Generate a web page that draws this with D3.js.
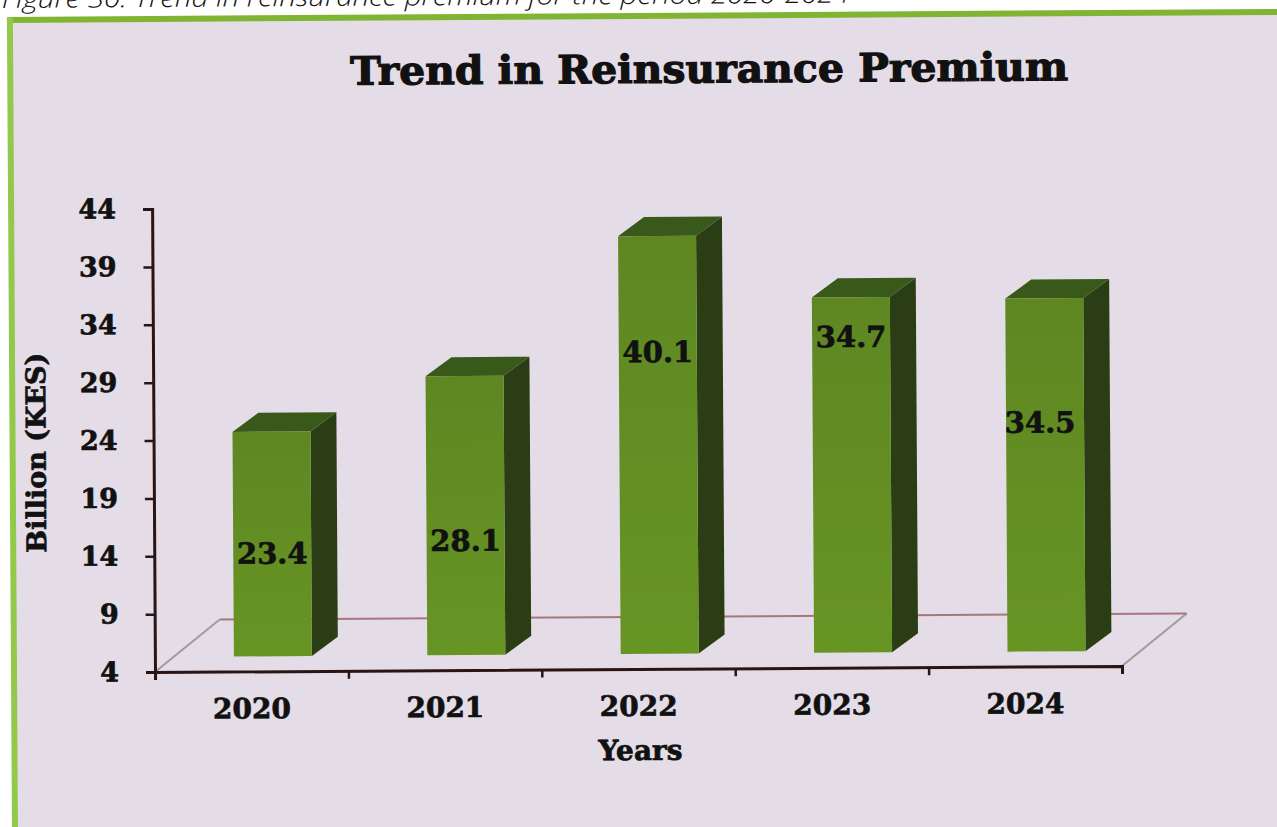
<!DOCTYPE html>
<html>
<head>
<meta charset="utf-8">
<script src="https://cdnjs.cloudflare.com/ajax/libs/d3/7.8.5/d3.min.js"></script>
<style>
  html, body { margin: 0; padding: 0; background: #fff; overflow: hidden; }
  svg { display: block; }
  text { font-family: "DejaVu Serif", serif; font-weight: bold; fill: #111; }
  .heavy { stroke: #111; stroke-width: 0.7px; }
</style>
</head>
<body>
<div id="chart"></div>
<script>
const years = ["2020", "2021", "2022", "2023", "2024"];
const premium = [23.4, 28.1, 40.1, 34.7, 34.5];
const yTicks = [4, 9, 14, 19, 24, 29, 34, 39, 44];
const chartTitle = "Trend in Reinsurance Premium";
const caption = "Figure 30: Trend in reinsurance premium for the period 2020-2024";

const width = 1277;
const height = 827;

// the source is a slightly crooked scan, so everything sits in one rotated group
let svg = d3.select("#chart").append("svg")
    .attr("width", width)
    .attr("height", height);

let g = svg.append("g").attr("transform", "rotate(-0.36 155 672)");

let y = d3.scaleLinear().domain([4, 44]).range([672, 209]);
let x = d3.scaleBand().domain(years).range([155, 1122]);
let xEdges = d3.scaleLinear().domain([0, years.length]).range([155, 1122]);

// panel
g.append("rect")
    .attr("x", 15).attr("y", 20)
    .attr("width", 1400).attr("height", 1000)
    .attr("fill", "#e4dce6");
g.append("rect")
    .attr("x", 12).attr("y", 16)
    .attr("width", 1400).attr("height", 6)
    .attr("fill", "#7fb533");
g.append("rect")
    .attr("x", 11).attr("y", 16)
    .attr("width", 6).attr("height", 1000)
    .attr("fill", "#93c94a");

g.append("text")
    .attr("x", 6).attr("y", 7)
    .style("font-family", "'Open Sans', sans-serif")
    .style("font-weight", 300)
    .style("font-style", "italic")
    .style("font-size", "25px")
    .attr("textLength", 848)
    .attr("lengthAdjust", "spacingAndGlyphs")
    .text(caption);

g.append("text")
    .attr("class", "heavy")
    .attr("x", 713).attr("y", 86)
    .attr("text-anchor", "middle")
    .style("font-size", "39px")
    .style("stroke-width", "1.2px")
    .attr("textLength", 718)
    .attr("lengthAdjust", "spacingAndGlyphs")
    .text(chartTitle);

// floor
const floorDx = 65, floorDy = 52;
g.append("path")
    .attr("d", d3.line()([[155, 672], [155 + floorDx, 672 - floorDy]]))
    .attr("stroke", "#a39a9e").attr("fill", "none").attr("stroke-width", 2);
g.append("path")
    .attr("d", d3.line()([[1122, 672], [1122 + floorDx, 672 - floorDy]]))
    .attr("stroke", "#a39a9e").attr("fill", "none").attr("stroke-width", 2);
g.append("path")
    .attr("d", d3.line()([[155 + floorDx, 672 - floorDy], [1122 + floorDx, 672 - floorDy]]))
    .attr("stroke", "#a5787c").attr("fill", "none").attr("stroke-width", 2);

// bars
const barInset = 79, barW = 78, lift = 15, depthX = 26, depthY = 19;
const baseY = 672 - lift;

let defs = svg.append("defs");
let front = defs.append("linearGradient").attr("id", "barFront")
    .attr("x1", 0).attr("y1", 0).attr("x2", 0).attr("y2", 1);
front.append("stop").attr("offset", 0).attr("stop-color", "#5e8722");
front.append("stop").attr("offset", 1).attr("stop-color", "#679524");

let bars = g.selectAll(".bar")
    .data(premium)
    .enter()
    .append("g")
    .attr("class", "bar");

bars.append("path")
    .attr("fill", "#2a3d15")
    .attr("d", (d, i) => {
        let x1 = x(years[i]) + barInset + barW;
        let top = y(d) - lift;
        return d3.line()([[x1, top], [x1 + depthX, top - depthY], [x1 + depthX, baseY - depthY], [x1, baseY]]) + "Z";
    });

bars.append("path")
    .attr("fill", "#39591a")
    .attr("d", (d, i) => {
        let x0 = x(years[i]) + barInset;
        let top = y(d) - lift;
        return d3.line()([[x0, top], [x0 + depthX, top - depthY], [x0 + barW + depthX, top - depthY], [x0 + barW, top]]) + "Z";
    });

bars.append("rect")
    .attr("fill", "url(#barFront)")
    .attr("x", (d, i) => x(years[i]) + barInset)
    .attr("y", d => y(d) - lift)
    .attr("width", barW)
    .attr("height", d => baseY - (y(d) - lift));

// data labels do not follow the bar tops in the source, so they get their own heights (axis units)
const labelHeights = [14.2, 15.2, 31.4, 32.6, 25.1];
const labelNudge = [0, 0, 0, 0, -5];

bars.append("text")
    .attr("class", "heavy")
    .attr("x", (d, i) => x(years[i]) + barInset + barW / 2 + labelNudge[i])
    .attr("y", (d, i) => y(labelHeights[i]))
    .attr("text-anchor", "middle")
    .attr("dy", "0.36em")
    .style("font-size", "29px")
    .text(d => d.toFixed(1));

// axes
let yAxis = g.append("g")
    .attr("transform", "translate(155,0)")
    .call(d3.axisLeft(y).tickValues(yTicks).tickSize(9).tickPadding(27));

let xTicks = g.append("g")
    .attr("transform", "translate(0,672)")
    .call(d3.axisBottom(xEdges).tickValues(d3.range(years.length + 1)).tickSize(8).tickFormat(""));

let xLabels = g.append("g")
    .attr("transform", "translate(0,672)")
    .call(d3.axisBottom(x).tickSize(0).tickPadding(27));
xLabels.select(".domain").remove();

g.selectAll(".domain").attr("stroke", "#2a1414").attr("stroke-width", 3);
g.selectAll(".tick line").attr("stroke", "#2a1414").attr("stroke-width", 2.5);
yAxis.selectAll("text").attr("class", "heavy").style("font-size", "27px").style("font-family", "'DejaVu Serif', serif").style("font-weight", "bold");
xLabels.selectAll("text").attr("class", "heavy").style("font-size", "28px").style("font-family", "'DejaVu Serif', serif").style("font-weight", "bold");

g.append("text")
    .attr("class", "heavy")
    .attr("x", 640).attr("y", 763)
    .attr("text-anchor", "middle")
    .style("font-size", "28px")
    .text("Years");

g.append("text")
    .attr("class", "heavy")
    .attr("transform", "translate(47,452) rotate(-90)")
    .attr("text-anchor", "middle")
    .style("font-size", "27px")
    .text("Billion (KES)");
</script>
</body>
</html>
